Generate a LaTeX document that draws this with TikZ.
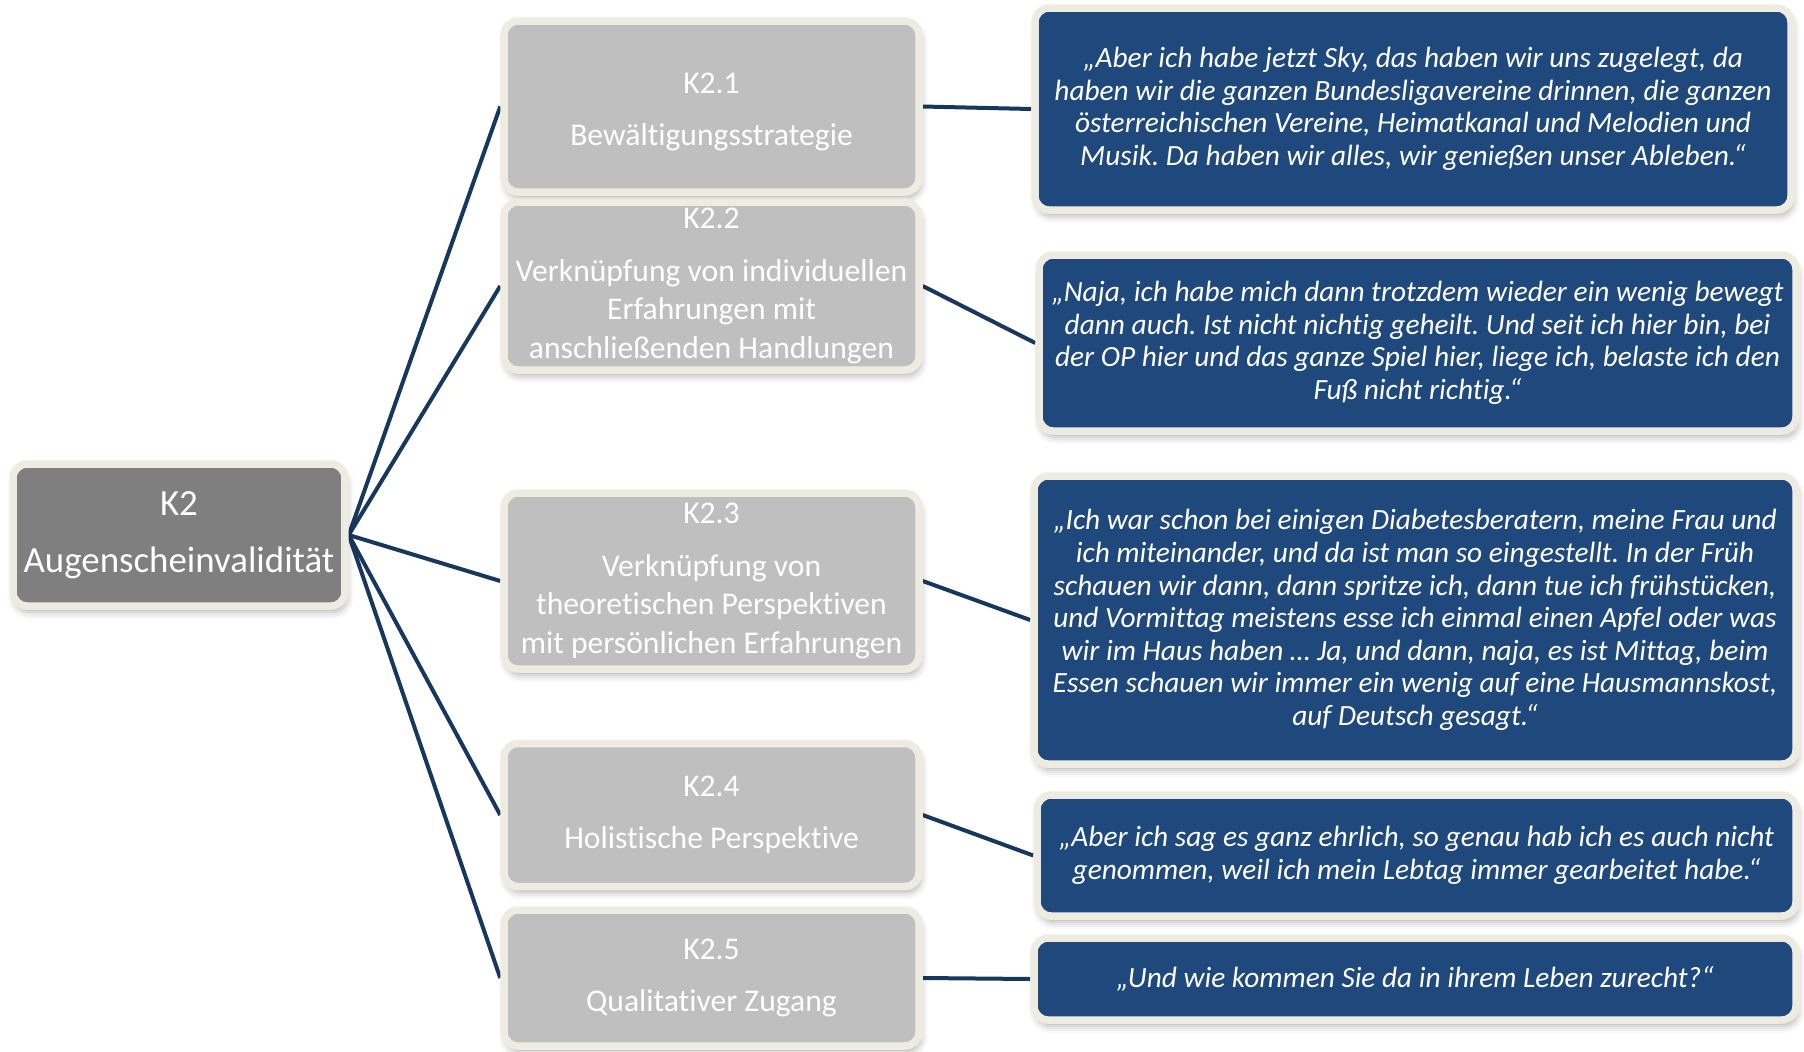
\documentclass[tikz,border=0pt]{standalone}
\usepackage{fontspec}
\setmainfont{Carlito}[Ligatures=NoCommon]
\frenchspacing
\definecolor{creamborder}{HTML}{EEECE1}
\definecolor{rootgray}{HTML}{7F7F7F}
\definecolor{subgray}{HTML}{BFBFBF}
\definecolor{quoteblue}{HTML}{1F497D}
\definecolor{linkblue}{HTML}{17375E}
\usetikzlibrary{shadows.blur}
\usetikzlibrary{backgrounds}

\tikzset{
  box/.style={rectangle, draw=creamborder, line width=0.75mm, rounded corners=1.4mm,
    text=white, align=center, inner sep=0pt,
    blur shadow={shadow xshift=0.2mm, shadow yshift=-0.6mm, shadow blur radius=0.7mm, shadow opacity=30}},
  rootbox/.style={box, fill=rootgray, font=\fontsize{10.5}{12.8}\selectfont},
  subbox/.style={box, fill=subgray, minimum width=41.5mm, font=\fontsize{9}{10.95}\selectfont},
  quotebox/.style={box, fill=quoteblue, font=\fontsize{8.35}{9.27}\selectfont\itshape},
  link/.style={draw=linkblue, line width=0.4mm}
}

\begin{document}
\begin{tikzpicture}[x=0.1mm, y=-0.1mm]
  \useasboundingbox (0,0) rectangle (1804,1052);

  % Root
  \node[rootbox, minimum width=33.2mm, minimum height=14.2mm] (k2) at (179,535)
    {K2\\[3.5pt]Augenscheinvalidität};

  % Subcategories
  \node[subbox, minimum height=17.1mm] (k21) at (711.5,106.5)
    {\rule{0pt}{9pt}K2.1\\[4pt]Bewältigungsstrategie};
  \node[subbox, minimum height=16.8mm] (k22) at (711.5,286)
    {K2.2\\[4pt]Verknüpfung von individuellen\\Erfahrungen mit\\anschließenden Handlungen};
  \node[subbox, minimum height=17.6mm] (k23) at (711.5,581)
    {K2.3\\[4pt]Verknüpfung von\\theoretischen Perspektiven\\mit persönlichen Erfahrungen};
  \node[subbox, minimum height=14.3mm] (k24) at (711.5,815)
    {K2.4\\[4pt]Holistische Perspektive};
  \node[subbox, minimum height=13.6mm] (k25) at (711.5,978)
    {K2.5\\[4pt]Qualitativer Zugang};

  % Quotes
  \node[quotebox, minimum width=75.6mm, minimum height=20.2mm] (q1) at (1413,109)
    {„Aber ich habe jetzt Sky, das haben wir uns zugelegt, da\\
     haben wir die ganzen Bundesligavereine drinnen, die ganzen\\
     österreichischen Vereine, Heimatkanal und Melodien und\\
     Musik. Da haben wir alles, wir genießen unser Ableben.“};
  \node[quotebox, minimum width=75.7mm, minimum height=17.6mm] (q2) at (1417.5,343)
    {„Naja, ich habe mich dann trotzdem wieder ein wenig bewegt\\
     dann auch. Ist nicht nichtig geheilt. Und seit ich hier bin, bei\\
     der OP hier und das ganze Spiel hier, liege ich, belaste ich den\\
     Fuß nicht richtig.“};
  \node[quotebox, minimum width=76.2mm, minimum height=28.8mm] (q3) at (1415,620)
    {„Ich war schon bei einigen Diabetesberatern, meine Frau und\\
     ich miteinander, und da ist man so eingestellt. In der Früh\\
     schauen wir dann, dann spritze ich, dann tue ich frühstücken,\\
     und Vormittag meistens esse ich einmal einen Apfel oder was\\
     wir im Haus haben … Ja, und dann, naja, es ist Mittag, beim\\
     Essen schauen wir immer ein wenig auf eine Hausmannskost,\\
     auf Deutsch gesagt.“};
  \node[quotebox, minimum width=75.9mm, minimum height=12.1mm] (q4) at (1416.5,855.5)
    {„Aber ich sag es ganz ehrlich, so genau hab ich es auch nicht\\
     genommen, weil ich mein Lebtag immer gearbeitet habe.“};
  \node[quotebox, minimum width=76.2mm, minimum height=8.2mm] (q5) at (1415,979)
    {„Und wie kommen Sie da in ihrem Leben zurecht?“};

  % Connectors
  \begin{scope}[on background layer]
    \foreach \s in {k21,k22,k23,k24,k25}
      \draw[link] (k2.east) -- (\s.west);
    \foreach \s/\q in {k21/q1,k22/q2,k23/q3,k24/q4,k25/q5}
      \draw[link] (\s.east) -- (\q.west);
  \end{scope}
\end{tikzpicture}
\end{document}
